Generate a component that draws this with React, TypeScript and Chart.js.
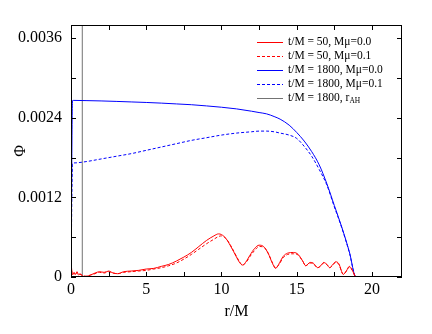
import React, { useEffect, useRef } from 'react';
import { Chart, registerables } from 'chart.js';

Chart.register(...registerables);

// ---------- data ----------
const blueR = [0, 0.1, 0.2, 1, 2, 3, 4, 5, 6, 7, 8, 9, 10, 11, 12, 12.5, 13, 13.5, 13.9, 14.5, 15, 15.5, 16, 16.5, 17, 17.5, 18, 18.5, 18.94, 20, 22];
const phi1800mu00 = [0, 0.00266, 0.002663, 0.00266, 0.002655, 0.002648, 0.00264, 0.002632, 0.002622, 0.00261, 0.002598, 0.00258, 0.00256, 0.002535, 0.0025, 0.00248, 0.00246, 0.00242, 0.00238, 0.00229, 0.00218, 0.00205, 0.00189, 0.00169, 0.00141, 0.00108, 0.00075, 0.00038, 0, 0, 0];
const phi1800mu01 = [0, 0.00171, 0.00172, 0.00174, 0.00178, 0.00182, 0.00186, 0.00191, 0.00196, 0.00201, 0.00206, 0.0021, 0.00214, 0.00217, 0.00219, 0.0022, 0.0022, 0.00219, 0.00217, 0.00214, 0.00209, 0.00197, 0.00182, 0.00162, 0.00139, 0.00106, 0.00074, 0.00037, 0, 0, 0];

const redR = [0, 0.05, 0.1, 0.2, 0.3, 0.4, 0.5, 0.6, 0.8, 1.0, 1.3, 1.6, 1.9, 2.2, 2.5, 2.8, 3.1, 3.5, 4, 4.5, 5, 5.5, 6, 6.5, 7, 7.5, 8, 8.5, 9, 9.5, 9.8, 10, 10.3, 10.6, 11, 11.2, 11.4, 11.6, 11.9, 12.2, 12.5, 12.8, 13.1, 13.4, 13.6, 13.8, 14.1, 14.4, 14.8, 15.1, 15.4, 15.6, 15.9, 16.1, 16.4, 16.6, 16.8, 17.0, 17.2, 17.4, 17.6, 17.8, 18.1, 18.3, 18.5, 18.7, 18.9];
const phi50mu00 = [0.00025, 0.0001, 0.00003, 0.00007, 0.00004, 0.00008, 0.00003, 0.00005, 0.00001, 0.00001, 0.00003, 0.00006, 0.00008, 0.00007, 0.00009, 0.00006, 0.00005, 0.00008, 0.00009, 0.0001, 0.00012, 0.00013, 0.00016, 0.00019, 0.00024, 0.0003, 0.00037, 0.00046, 0.00055, 0.00062, 0.00065, 0.00064, 0.00058, 0.00047, 0.0003, 0.00022, 0.00018, 0.00022, 0.00033, 0.00043, 0.00048, 0.00046, 0.00036, 0.0002, 0.00013, 0.00019, 0.00031, 0.00036, 0.00037, 0.00034, 0.00024, 0.00017, 0.00022, 0.00021, 0.00014, 0.00017, 0.00022, 0.00019, 0.00014, 0.00019, 0.00023, 0.0002, 0.00004, 0.00009, 0.00016, 0.0001, 0];
const phi50mu01 = [0.00025, 0.00008, 0.00004, 0.00006, 0.00003, 0.00007, 0.00004, 0.00004, 0.00002, 0.00001, 0.00003, 0.00005, 0.00007, 0.00006, 0.00008, 0.00006, 0.00005, 0.00007, 0.00008, 0.00009, 0.0001, 0.00012, 0.00014, 0.00017, 0.00021, 0.00027, 0.00034, 0.00042, 0.0005, 0.00057, 0.00061, 0.00062, 0.00058, 0.00048, 0.00031, 0.00023, 0.00018, 0.00021, 0.00031, 0.0004, 0.00046, 0.00045, 0.00036, 0.00021, 0.00014, 0.00018, 0.00029, 0.00034, 0.00035, 0.00033, 0.00024, 0.00017, 0.00021, 0.0002, 0.00014, 0.00017, 0.00021, 0.00019, 0.00014, 0.00018, 0.00022, 0.00019, 0.00004, 0.00009, 0.00015, 0.0001, 0];

const rAH = 0.75;
const phiRange = [0, 0.0038];

const legendLabels = ['t/M = 50, Mμ=0.0', 't/M = 50, Mμ=0.1', 't/M = 1800, Mμ=0.0', 't/M = 1800, Mμ=0.1', 't/M = 1800, r_AH'];

const xTickValues = [0, 2.5, 5, 7.5, 10, 12.5, 15, 17.5, 20];
const xLabelValues = [0, 5, 10, 15, 20];
const yTickValues = [0, 0.0006, 0.0012, 0.0018, 0.0024, 0.003, 0.0036];
const yLabelValues = [0, 0.0012, 0.0024, 0.0036];

const xMin = 0;
const xMax = 22;

// ---------- styles ----------
const FONT = "'Liberation Serif', 'Times New Roman', serif";
const RED = 'rgb(255,0,0)';
const BLUE = 'rgb(0,0,255)';
const GREY = 'rgba(60,60,60,0.9)';

const pts = (xs: number[], ys: number[]) => xs.map((x, i) => ({ x, y: ys[i] }));

const framePlugin = {
  id: 'frame',
  afterDatasetsDraw(chart: any) {
    const { ctx, chartArea: a, scales } = chart;
    const xs = scales.x;
    const ys = scales.y;
    ctx.save();
    ctx.strokeStyle = '#000';
    ctx.lineWidth = 1;
    ctx.strokeRect(a.left + 0.5, a.top + 0.5, a.right - a.left - 1, a.bottom - a.top - 1);
    const tl = 5;
    ctx.beginPath();
    for (const v of xTickValues) {
      const px = Math.round(xs.getPixelForValue(v)) + 0.5;
      ctx.moveTo(px, a.bottom);
      ctx.lineTo(px, a.bottom - tl);
      ctx.moveTo(px, a.top);
      ctx.lineTo(px, a.top + tl);
    }
    for (const v of yTickValues) {
      const py = Math.round(ys.getPixelForValue(v)) + 0.5;
      ctx.moveTo(a.left, py);
      ctx.lineTo(a.left + tl, py);
      ctx.moveTo(a.right, py);
      ctx.lineTo(a.right - tl, py);
    }
    ctx.stroke();

    // legend
    const x0 = 257;
    const x1 = 283;
    const tx = 288;
    const y0 = 41.5;
    const dy = 14;
    ctx.font = `11.5px ${FONT}`;
    ctx.textBaseline = 'middle';
    ctx.textAlign = 'left';
    chart.data.datasets.forEach((ds: any, i: number) => {
      const y = y0 + i * dy;
      ctx.save();
      ctx.strokeStyle = ds.borderColor;
      ctx.lineWidth = ds.borderWidth;
      ctx.setLineDash(ds.borderDash || []);
      ctx.beginPath();
      ctx.moveTo(x0, Math.round(y) + 0.5);
      ctx.lineTo(x1, Math.round(y) + 0.5);
      ctx.stroke();
      ctx.restore();
      ctx.fillStyle = '#000';
      const label: string = ds.label;
      const parts = label.split('_');
      ctx.fillText(parts[0], tx, y);
      if (parts[1]) {
        const w = ctx.measureText(parts[0]).width;
        ctx.save();
        ctx.font = `7.5px ${FONT}`;
        ctx.fillText(parts[1], tx + w, y + 4);
        ctx.restore();
      }
    });
    ctx.restore();
  },
};

export default function App() {
  const ref = useRef<HTMLCanvasElement | null>(null);
  useEffect(() => {
    if (!ref.current) return;
    const chart = new Chart(ref.current, {
      type: 'line',
      data: {
        datasets: [
          { label: legendLabels[0], data: pts(redR, phi50mu00), borderColor: RED, borderWidth: 1, borderDash: [], pointRadius: 0, cubicInterpolationMode: 'monotone', fill: false },
          { label: legendLabels[1], data: pts(redR, phi50mu01), borderColor: RED, borderWidth: 1, borderDash: [3, 2], pointRadius: 0, cubicInterpolationMode: 'monotone', fill: false },
          { label: legendLabels[2], data: pts(blueR, phi1800mu00), borderColor: BLUE, borderWidth: 1, borderDash: [], pointRadius: 0, cubicInterpolationMode: 'monotone', fill: false },
          { label: legendLabels[3], data: pts(blueR, phi1800mu01), borderColor: BLUE, borderWidth: 1, borderDash: [3, 2], pointRadius: 0, cubicInterpolationMode: 'monotone', fill: false },
          { label: legendLabels[4], data: [{ x: rAH, y: phiRange[0] }, { x: rAH, y: phiRange[1] }], borderColor: GREY, borderWidth: 0.8, borderDash: [], pointRadius: 0, fill: false },
        ] as any,
      },
      options: {
        animation: false,
        responsive: false,
        events: [],
        layout: { padding: { top: 25, right: 30, left: 0, bottom: 0 } },
        plugins: { legend: { display: false }, tooltip: { enabled: false } },
        scales: {
          x: {
            type: 'linear',
            min: xMin,
            max: xMax,
            grid: { display: false, drawTicks: false },
            border: { display: false },
            afterBuildTicks: (s: any) => { s.ticks = xTickValues.map((v) => ({ value: v })); },
            afterFit: (s: any) => { s.height = 57; },
            ticks: {
              autoSkip: false,
              maxRotation: 0,
              padding: 3,
              color: '#000',
              font: { family: FONT, size: 16 },
              callback: (v: any) => (xLabelValues.includes(Number(v)) ? String(v) : ''),
            },
            title: { display: true, text: 'r/M', color: '#000', font: { family: FONT, size: 16 }, padding: { top: 0, bottom: 13 } },
          },
          y: {
            type: 'linear',
            min: phiRange[0],
            max: phiRange[1],
            grid: { display: false, drawTicks: false },
            border: { display: false },
            afterBuildTicks: (s: any) => { s.ticks = yTickValues.map((v) => ({ value: v })); },
            afterFit: (s: any) => { s.width = 71; },
            ticks: {
              autoSkip: false,
              padding: 9,
              color: '#000',
              font: { family: FONT, size: 16 },
              callback: (v: any) => {
                const n = Number(v);
                const hit = yLabelValues.find((l) => Math.abs(l - n) < 1e-9);
                if (hit === undefined) return '';
                return hit === 0 ? '0' : hit.toFixed(4);
              },
            },
            title: { display: true, text: 'Φ', color: '#000', font: { family: FONT, size: 16 }, padding: { top: 11, bottom: 0 } },
          },
        },
      } as any,
      plugins: [framePlugin],
    });
    return () => chart.destroy();
  }, []);
  return (
    <div style={{ position: 'absolute', left: 0, top: 0, width: 432, height: 334, background: '#fff' }}>
      <canvas ref={ref} width={432} height={334} style={{ display: 'block', width: 432, height: 334 }} />
    </div>
  );
}
